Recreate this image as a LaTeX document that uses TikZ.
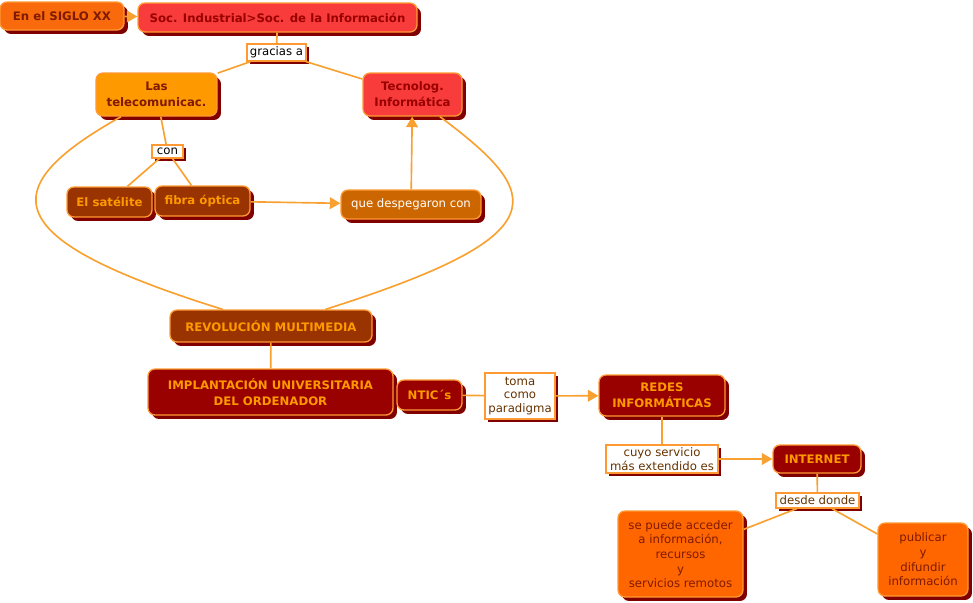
\documentclass[tikz,border=0pt]{standalone}
\usepackage{fontspec}
\setmainfont{DejaVu Sans}
\usepackage{tikz}
\usetikzlibrary{arrows.meta,shadows}
\usepackage{xcolor}
\definecolor{MapEdge}{HTML}{FF9933}
\definecolor{MapShadow}{HTML}{800000}
\definecolor{MapLine}{HTML}{F8A130}
\definecolor{SigloFill}{HTML}{F96A0C}
\definecolor{SocFill}{HTML}{F83C3C}
\definecolor{SocText}{HTML}{990000}
\definecolor{TeleFill}{HTML}{FF9900}
\definecolor{BrownFill}{HTML}{993300}
\definecolor{DespegFill}{HTML}{CC6600}
\definecolor{DarkRedFill}{HTML}{990000}
\definecolor{OrangeFill}{HTML}{FF6600}
\definecolor{DarkText}{HTML}{7F1A00}
\definecolor{GoldText}{HTML}{FF9900}
\definecolor{LinkText}{HTML}{663300}
\tikzset{
  box/.style 2 args={rounded corners=6pt,draw=MapEdge,line width=1.1pt,align=center,
    minimum width=#1*0.03cm,minimum height=#2*0.03cm,inner sep=1pt,
    font=\fontsize{10}{13.5}\selectfont\bfseries,
    drop shadow={shadow xshift=3.4pt,shadow yshift=-3.4pt,fill=MapShadow,opacity=1}},
  tag/.style 2 args={draw=MapEdge,fill=white,line width=1pt,align=center,text=LinkText,
    minimum width=#1*0.03cm,minimum height=#2*0.03cm,inner sep=0.5pt,
    font=\fontsize{10}{11.5}\selectfont,
    drop shadow={shadow xshift=2.6pt,shadow yshift=-2.6pt,fill=MapShadow,opacity=1}},
  plain/.style={font=\fontsize{10}{12.5}\selectfont},
  wire/.style={MapLine,line width=1.4pt}
}

\begin{document}
\begin{tikzpicture}[x=0.03cm,y=-0.03cm,>={Triangle[length=9pt,width=10pt]}]
  \useasboundingbox (0,0) rectangle (973,602);

  \node[box={124}{28},fill=SigloFill,text=DarkText] (siglo) at (62,16) {En el SIGLO XX};
  \node[box={279}{29},fill=SocFill,text=SocText] (soc) at (277.5,17.5) {Soc. Industrial>Soc. de la Información};
  \node[tag={59}{17},text=black] (gracias) at (276.5,52.5) {gracias a};
  \node[box={121}{43},fill=TeleFill,text=DarkText] (telecom) at (156.5,94.5) {Las\\telecomunicac.};
  \node[box={99}{43},fill=SocFill,text=SocText] (tecno) at (412.5,94.5) {Tecnolog.\\Informática};
  \node[tag={31}{13},text=black] (con) at (167.5,151.5) {con};
  \node[box={85}{30},fill=BrownFill,text=GoldText] (satelite) at (109.5,202) {El satélite};
  \node[box={95}{30},fill=BrownFill,text=GoldText] (fibra) at (202.5,201) {fibra óptica};
  \node[box={140}{29},fill=DespegFill,text=white,plain] (despeg) at (411,204.5) {que despegaron con};
  \node[box={202}{32},fill=BrownFill,text=GoldText] (revol) at (271,326) {REVOLUCIÓN MULTIMEDIA};
  \node[box={245}{46},fill=DarkRedFill,text=GoldText] (implant) at (270.5,392) {IMPLANTACIÓN UNIVERSITARIA\\DEL ORDENADOR};
  \node[box={65}{30},fill=DarkRedFill,text=GoldText] (ntic) at (429.5,395) {NTIC´s};
  \node[tag={70}{46}] (toma) at (520,396) {toma\\como\\paradigma};
  \node[box={126}{41},fill=DarkRedFill,text=GoldText] (redes) at (662,395.5) {REDES\\INFORMÁTICAS};
  \node[tag={112}{28}] (cuyo) at (662,459) {cuyo servicio\\más extendido es};
  \node[box={88}{28},fill=DarkRedFill,text=GoldText] (internet) at (817,459) {INTERNET};
  \node[tag={83}{15}] (desde) at (817.5,500.5) {desde donde};
  \node[box={125}{86},fill=OrangeFill,text=DarkText,plain] (acceder) at (680.5,554)
    {se puede acceder\\a información,\\recursos\\y\\servicios remotos};
  \node[box={90}{73},fill=OrangeFill,text=DarkText,plain] (publicar) at (923,559.5)
    {publicar\\y\\difundir\\información};

  \foreach \a/\b in {soc/gracias,gracias/telecom,gracias/tecno,telecom/con,con/satelite,con/fibra,
    revol/implant,ntic/toma,redes/cuyo,internet/desde,desde/acceder,desde/publicar}
    \draw[wire] (\a) -- (\b);
  \foreach \a/\b in {siglo/soc,fibra/despeg,despeg/tecno,toma/redes,cuyo/internet}
    \draw[wire,->] (\a) -- (\b);
  \draw[wire] (telecom.-148) .. controls (-10,190) and (0,240) .. (revol.161);
  \draw[wire] (tecno.-39) .. controls (545,195) and (560,235) .. (revol.17);
\end{tikzpicture}
\end{document}
